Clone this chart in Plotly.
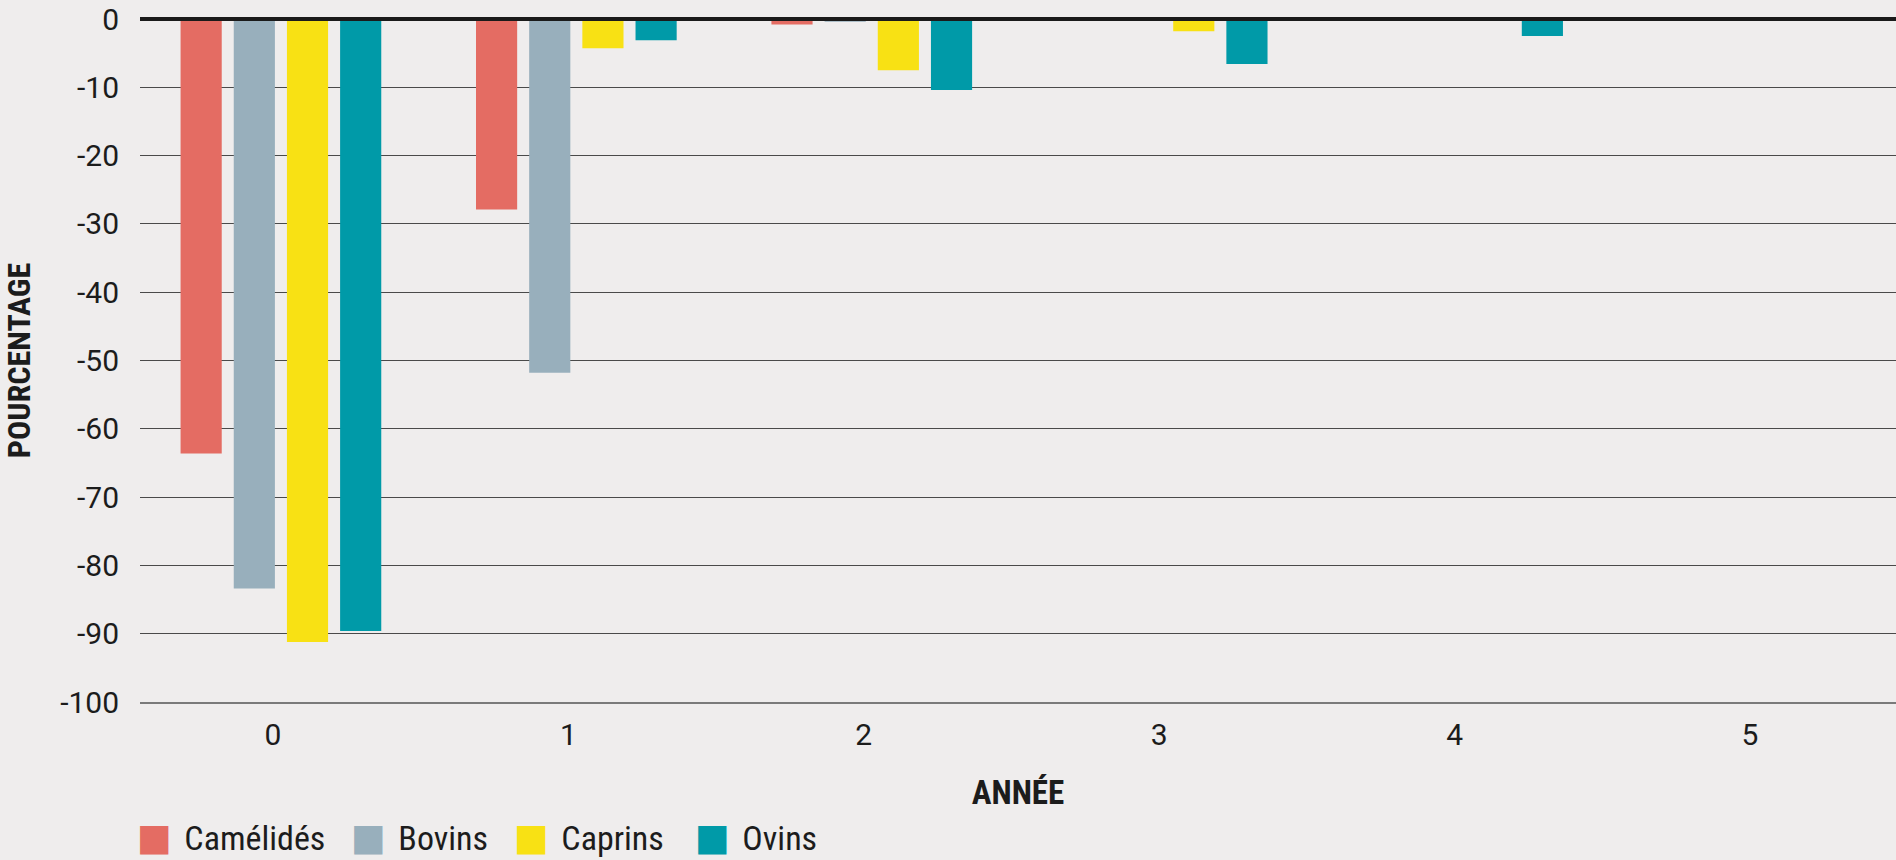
import plotly.graph_objects as go

# ---- data ----
years = [0, 1, 2, 3, 4, 5]
year_labels = ["0", "1", "2", "3", "4", "5"]
camelides = [-63.6, -27.9, -0.8, 0, 0, 0]
bovins = [-83.4, -51.8, -0.4, 0, 0, 0]
caprins = [-91.2, -4.3, -7.5, -1.8, 0, 0]
ovins = [-89.6, -3.1, -10.4, -6.6, -2.5, 0]
series_names = ["Camélidés", "Bovins", "Caprins", "Ovins"]
y_tick_vals = [0, -10, -20, -30, -40, -50, -60, -70, -80, -90, -100]
y_tick_text = ["0", "-10", "-20", "-30", "-40", "-50", "-60", "-70", "-80", "-90", "-100"]

# ---- styles ----
colors = ["#e46c63", "#98afbc", "#f8e114", "#009aa8"]
legend_entry_widths = [169, 118, 136, 120]  # pixel width of each legend entry's label area
BG = "#efeded"
TXT = "#1c1c1c"
FONT = "Roboto Condensed, Liberation Sans Narrow, DejaVu Sans Condensed, sans-serif"
TICKFONT = "Roboto, sans-serif"
NB = "\u00a0"

fig = go.Figure()
for name, vals, col in zip(series_names, [camelides, bovins, caprins, ovins], colors):
    fig.add_trace(go.Bar(x=years, y=vals, name=name, marker=dict(color=col, line=dict(width=0)),
                         showlegend=False))
# legend entries: large square swatch drawn as a glyph in the entry text
for name, col, lw in zip(series_names, colors, legend_entry_widths):
    label = (f'<span style="font-family:DejaVu Sans;font-size:37px;color:{col}">\u25A0</span>'
             f'<span style="font-size:27px">{NB}{NB}</span>{name}')
    fig.add_trace(go.Scatter(x=[None], y=[None], mode="markers", name=label, legendwidth=lw,
                             marker=dict(symbol="square", size=1, color="rgba(0,0,0,0)",
                                         line=dict(width=0))))

fig.update_layout(
    width=1896, height=860,
    paper_bgcolor=BG, plot_bgcolor=BG,
    margin=dict(l=140, r=0, t=19, b=158, autoexpand=False),
    barmode="group", bargap=0.28, bargroupgap=0.226,
    font=dict(family=FONT, color=TXT, size=30),
    showlegend=True,
    legend=dict(orientation="h", x=-0.0245, xanchor="left", y=-0.1977, yanchor="middle",
                font=dict(size=34, family=FONT, color=TXT), itemwidth=30,
                bgcolor="rgba(0,0,0,0)"),
)
fig.update_xaxes(range=[-0.477, 5.467], tickmode="array", tickvals=years, ticktext=year_labels,
                 showgrid=False, zeroline=False, showline=True, linecolor="#7a7a7a", linewidth=2,
                 ticks="", ticklabelstandoff=5, ticklabelshift=-8,
                 tickfont=dict(size=30, family=TICKFONT),
                 title=dict(text="<b>ANNÉE</b>", font=dict(size=33), standoff=30))
fig.update_yaxes(range=[-100, 0], tickmode="array", tickvals=y_tick_vals, ticktext=y_tick_text,
                 showgrid=True, gridcolor="#4a4a4a", gridwidth=1.3,
                 zeroline=True, zerolinecolor="#1a1a1a", zerolinewidth=4,
                 showline=False, ticks="", ticklabelstandoff=20,
                 tickfont=dict(size=30, family=TICKFONT),
                 title=dict(text="<b>POURCENTAGE</b>", font=dict(size=32), standoff=52))
try:
    fig.update_yaxes(zerolinelayer="above traces")
except Exception:
    pass

fig.write_html("out.html")
